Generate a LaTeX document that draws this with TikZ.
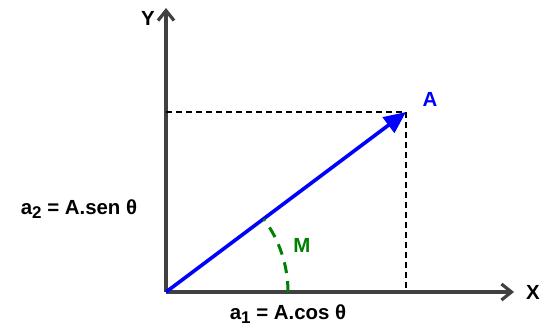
\documentclass[tikz,border=0pt]{standalone}
\usepackage{fontspec}
\setmainfont{Liberation Sans}
\usetikzlibrary{arrows.meta}

\newcommand*{\sub}[1]{\raisebox{-0.35ex}{\fontsize{17}{19}\selectfont #1}}

\begin{document}
\begin{tikzpicture}
[
	x=1bp, y=1bp,
	axis/.style={draw=black!75,line width=3.6bp,-{Straight Barb[length=10bp,width=16bp,line width=3.2bp]}},
	vec/.style={draw=blue,line width=3.6bp,-{Triangle[length=22bp,width=19bp]}},
	proj/.style={line width=1.7bp,dash pattern=on 6bp off 4bp},
	anglearc/.style={draw=green!50!black,line width=3bp,dash pattern=on 11bp off 8bp},
	lbl/.style={font=\fontsize{20.5}{24}\selectfont\bfseries,inner sep=0pt}
]
	\useasboundingbox (0,0) rectangle (540,329);

	% points
	\coordinate (O)    at (166,37);
	\coordinate (Ytop) at (166,321);
	\coordinate (Xend) at (514,37);
	\coordinate (P)    at (406,217);
	\coordinate (Px)   at (406,37);
	\coordinate (Py)   at (166,217);
	\coordinate (Marc) at (288,37);

	% axes
	\draw[axis] (O) -- (Ytop);
	\draw[axis] (O) -- (Xend);

	% projections
	\draw[proj] (Py) -- (P) -- (Px);

	% vector
	\draw[vec] (O) -- (P);

	% angle
	\draw[anglearc] (Marc) arc[start angle=0,end angle=36.87,radius=122];

	% labels
	\node[lbl] (ylabel) at (148,311) {Y};
	\node[lbl] (xlabel) at (533,37) {X};
	\node[lbl,blue] (alabel) at (430,230) {A};
	\node[lbl,green!50!black] (mlabel) at (302,84) {M};
	\node[lbl] (a2label) at (79,120) {a\sub{2} = A.sen θ};
	\node[lbl] (a1label) at (288,15) {a\sub{1} = A.cos θ};

\end{tikzpicture}
\end{document}
